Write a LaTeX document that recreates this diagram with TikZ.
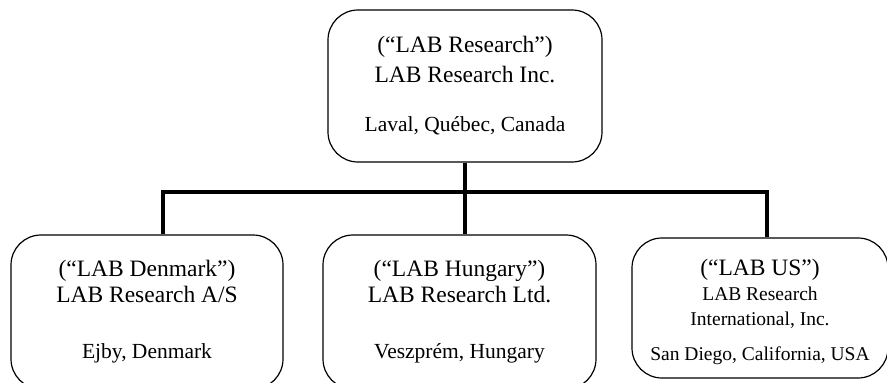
\documentclass[tikz,border=0pt]{standalone}
\usepackage{fontspec}
\setmainfont{Liberation Serif}
\usetikzlibrary{positioning}

\newcommand{\addr}{\fontsize{21.5}{26}\selectfont}
\newcommand{\subline}{\fontsize{19.5}{25}\selectfont}

\tikzset{
  unit/.style={draw, rounded corners=30pt, line width=1.2pt, align=center, inner sep=0pt},
  link/.style={line width=3.6pt}
}

\begin{document}
\begin{tikzpicture}[x=1pt,y=-1pt]
\useasboundingbox (0,0) rectangle (887,383);
\node[unit, minimum width=274pt, minimum height=152pt, font=\fontsize{23.5}{30}\selectfont] (h1) at (465,86)
  {(“LAB Research”)\\LAB Research Inc.\\[19pt]{\addr Laval, Québec, Canada}};
\node[unit, minimum width=272pt, minimum height=154pt, font=\fontsize{23.5}{26}\selectfont] (b1) at (147,312)
  {(“LAB Denmark”)\\LAB Research A/S\\[30pt]{\addr Ejby, Denmark}};
\node[unit, minimum width=273pt, minimum height=154pt, font=\fontsize{23.5}{26}\selectfont] (b2) at (459.5,312)
  {(“LAB Hungary”)\\LAB Research Ltd.\\[30pt]{\addr Veszprém, Hungary}};
\node[unit, minimum width=256pt, minimum height=140pt, font=\fontsize{23.5}{25}\selectfont] (b3) at (760,308)
  {\rule{0pt}{24pt}(“LAB US”)\\{\subline LAB Research}\\{\subline International, Inc.}\\[10pt]{\subline San Diego, California, USA}};
\coordinate (j1) at (163,192);
\coordinate (j3) at (767,192);

\draw[link] (j1|-b1.north) -- (j1) -- (j3) -- (j3|-b3.north);
\draw[link] (h1.south) -- (h1.south|-b2.north);
\end{tikzpicture}
\end{document}
